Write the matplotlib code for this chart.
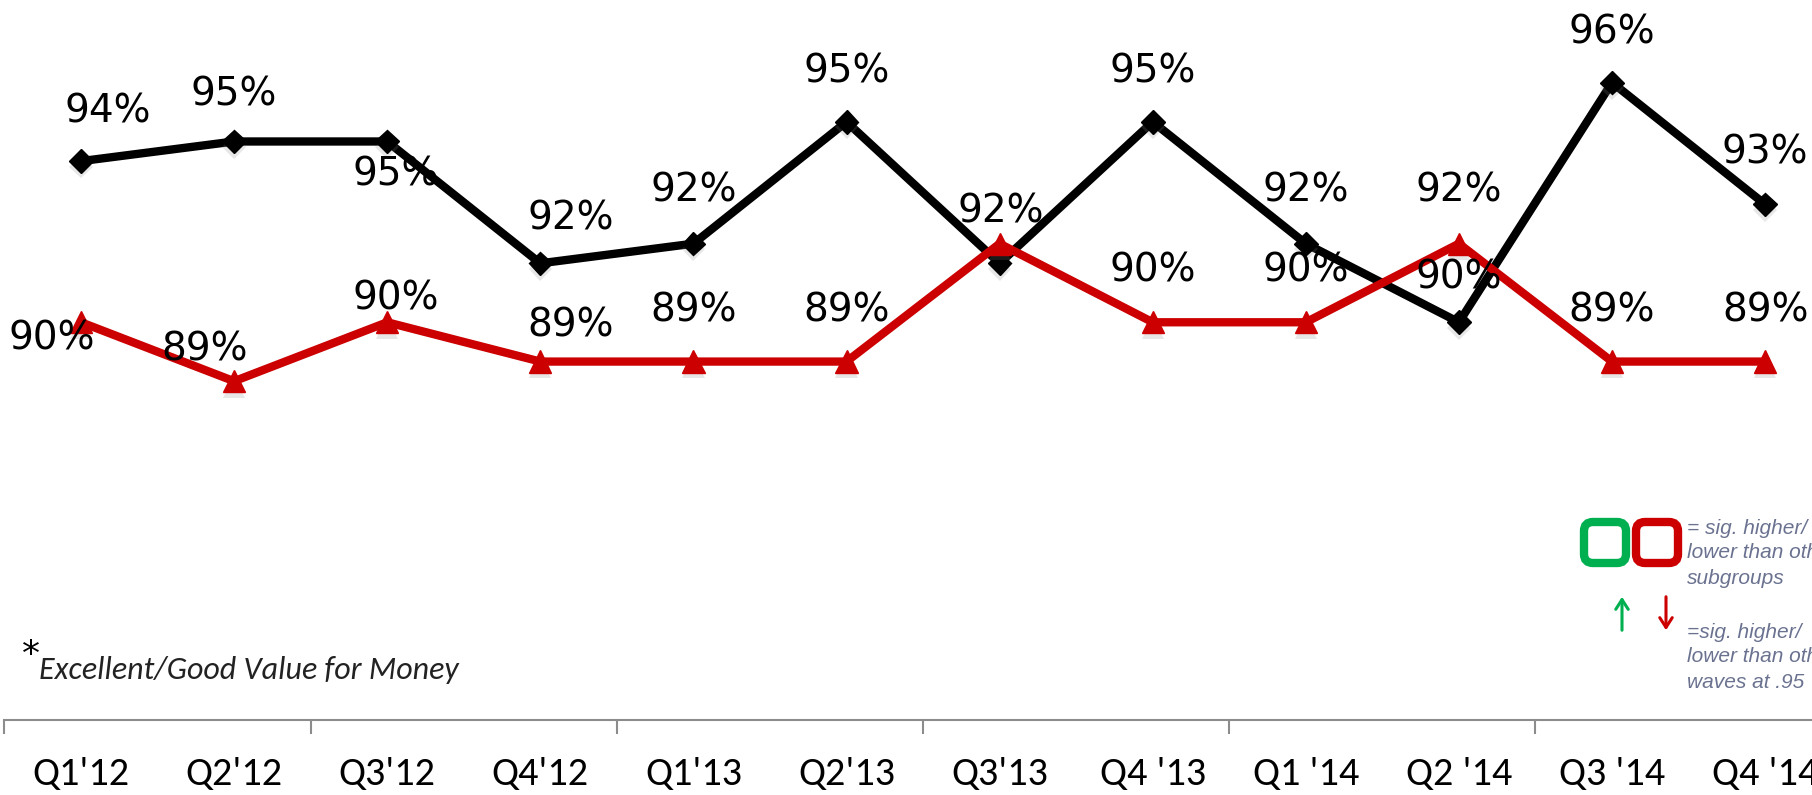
import numpy as np
import matplotlib
matplotlib.use("Agg")
import matplotlib.pyplot as plt
import matplotlib.patheffects as pe
from matplotlib.patches import FancyBboxPatch

# quarters on the x axis
quarters = ["Q1'12", "Q2'12", "Q3'12", "Q4'12", "Q1'13", "Q2'13",
            "Q3'13", "Q4 '13", "Q1 '14", "Q2 '14", "Q3 '14", "Q4 '14"]

# plotted heights and the printed labels
black_vals = [94.1, 94.6, 94.6, 91.5, 92.0, 95.1, 91.5, 95.1, 92.0, 90.0, 96.1, 93.0]
black_lbls = ["94%", "95%", "95%", "92%", "92%", "95%", "92%", "95%", "92%", "90%", "96%", "93%"]
red_vals = [90.0, 88.5, 90.0, 89.0, 89.0, 89.0, 92.0, 90.0, 90.0, 92.0, 89.0, 89.0]
red_lbls = ["90%", "89%", "90%", "89%", "89%", "89%", "", "90%", "90%", "92%", "89%", "89%"]

# label offsets in points
black_off = [(19, 36), (0, 34), (6, -24), (22, 32), (0, 38), (0, 36),
             (1, 37), (0, 36), (0, 38), (0, 32), (0, 36), (0, 37)]
red_off = [(-21, -12), (-21, 23), (6, 17), (22, 26), (0, 37), (0, 37),
           (1, 22), (0, 37), (0, 37), (0, 38), (0, 37), (0, 37)]

NUM_FONT = ["DejaVu Sans Condensed", "DejaVu Sans"]
CAL_FONT = ["Carlito", "Liberation Sans Narrow", "Lato"]
RED = "#cc0000"
GREEN = "#00b050"
GREY_TXT = "#6a7290"

fig = plt.figure(figsize=(18.12, 7.95), dpi=100)
ax = fig.add_axes([0, 75 / 795, 1, 720 / 795])

x = np.arange(len(quarters))
shadow = [pe.SimplePatchShadow(offset=(0, -4), shadow_rgbFace="#888888", alpha=0.2), pe.Normal()]

ax.plot(x, black_vals, color="black", lw=6, zorder=2, solid_joinstyle="miter")
ax.plot(x, black_vals, ls="none", marker="D", ms=12, color="black", zorder=3,
        path_effects=shadow)
ax.plot(x, red_vals, color=RED, lw=6, zorder=4, solid_joinstyle="miter")
ax.plot(x, red_vals, ls="none", marker="^", ms=16, color=RED, zorder=5,
        path_effects=shadow)

for i in range(len(quarters)):
    ax.annotate(black_lbls[i], (x[i], black_vals[i]), xytext=black_off[i],
                textcoords="offset points", ha="center", va="center",
                fontsize=28, family=NUM_FONT, zorder=10)
    if red_lbls[i]:
        ax.annotate(red_lbls[i], (x[i], red_vals[i]), xytext=red_off[i],
                    textcoords="offset points", ha="center", va="center",
                    fontsize=28, family=NUM_FONT, zorder=10)

for s in ["top", "right", "left"]:
    ax.spines[s].set_visible(False)
ax.spines["bottom"].set_color("#8c8c8c")
ax.spines["bottom"].set_linewidth(1.5)
ax.set_yticks([])
ax.set_xticks(np.arange(-0.5, 12, 2))
ax.set_xticklabels([])
ax.tick_params(axis="x", which="major", length=10, width=1.5, color="#8c8c8c", direction="out")
ax.set_xticks(x, minor=True)
ax.set_xticklabels(quarters, minor=True, fontsize=29, family=CAL_FONT)
ax.tick_params(axis="x", which="minor", length=0, pad=26)

ax.set_xlim(-0.529, 11.306)
ax.set_ylim(79.88, 98.2)
ax.spines["bottom"].set_bounds(-0.5, 11.306)

# footnote
fig.text(22 / 1812, 1 - 655 / 795, "*", fontsize=26, family="DejaVu Sans", va="center")
fig.text(39 / 1812, 1 - 670 / 795, "Excellent/Good Value for Money", fontsize=23,
         family=CAL_FONT, style="italic", va="center", color="#222222")

# legend box in the lower right, drawn in pixel space
lg = fig.add_axes([0, 0, 1, 1])
lg.set_xlim(0, 1812)
lg.set_ylim(795, 0)
lg.axis("off")
lg.add_patch(FancyBboxPatch((1584, 522), 42, 41, boxstyle="round,pad=0,rounding_size=9",
                            fc="white", ec=GREEN, lw=6))
lg.add_patch(FancyBboxPatch((1636, 522), 42, 41, boxstyle="round,pad=0,rounding_size=9",
                            fc="white", ec=RED, lw=6))
lg.annotate("", xy=(1622, 594), xytext=(1622, 633),
            arrowprops=dict(arrowstyle="->,head_width=0.45,head_length=0.7", color=GREEN, lw=2.2))
lg.annotate("", xy=(1666, 633), xytext=(1666, 594),
            arrowprops=dict(arrowstyle="->,head_width=0.45,head_length=0.7", color=RED, lw=2.2))

for yy, t in zip([528, 553, 578], ["= sig. higher/", "lower than other", "subgroups"]):
    lg.text(1687, yy, t, fontsize=15, style="italic", family="Liberation Sans",
            color=GREY_TXT, va="center", ha="left")
for yy, t in zip([632, 657, 682], ["=sig. higher/", "lower than other", "waves at .95"]):
    lg.text(1687, yy, t, fontsize=15, style="italic", family="Liberation Sans",
            color=GREY_TXT, va="center", ha="left")

fig.savefig("out.png", dpi=100)
